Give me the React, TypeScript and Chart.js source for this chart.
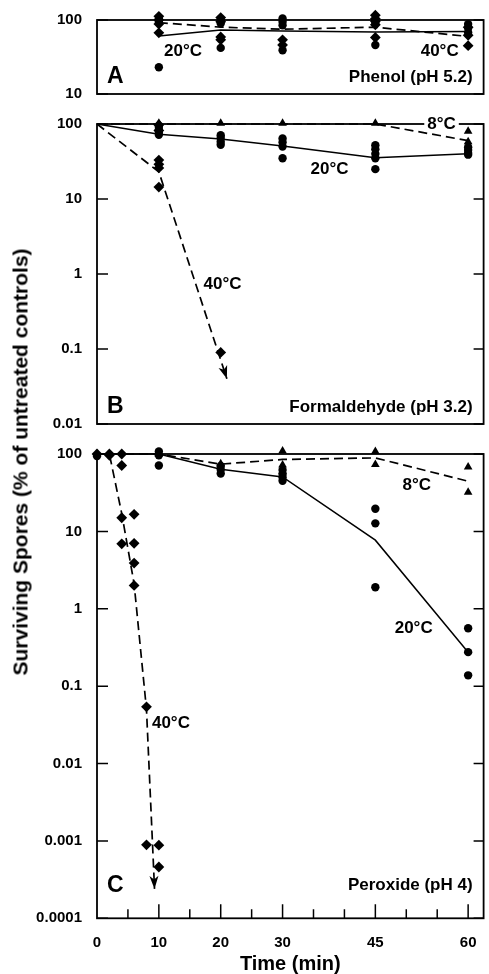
import React, { useEffect, useRef } from 'react';
import { Chart, registerables } from 'chart.js';

Chart.register(...registerables);

const FONT = '"Liberation Sans", Arial, Helvetica, sans-serif';

// ---------- shared axis data ----------
const xTickValues = [0, 10, 20, 30, 45, 60];
const xTickLabels = ['0', '10', '20', '30', '45', '60'];
const xMinorTicks = [5, 15, 25, 35, 40, 50, 55];

const yTicksA = [10, 100];
const yLabelsA = ['10', '100'];
const yTicksB = [0.01, 0.1, 1, 10, 100];
const yLabelsB = ['0.01', '0.1', '1', '10', '100'];
const yTicksC = [0.0001, 0.001, 0.01, 0.1, 1, 10, 100];
const yLabelsC = ['0.0001', '0.001', '0.01', '0.1', '1', '10', '100'];

// ---------- Panel A: Phenol (pH 5.2) ----------
const phenol20Points: [number, number][] = [
  [10, 120], [10, 105], [10, 95], [10, 23],
  [20, 115], [20, 100], [20, 90], [20, 42],
  [30, 120], [30, 105], [30, 95], [30, 85], [30, 39],
  [45, 92], [45, 46],
  [60, 88], [60, 78], [60, 68],
];
const phenol40Points: [number, number][] = [
  [10, 112], [10, 100], [10, 88], [10, 67],
  [20, 108], [20, 95], [20, 59], [20, 54],
  [30, 54], [30, 46],
  [45, 116], [45, 104], [45, 96], [45, 86], [45, 58],
  [60, 80], [60, 62], [60, 45],
];
const phenol20Line: [number, number][] = [[10, 61], [20, 73], [30, 71], [45, 69], [60, 70]];
const phenol40Line: [number, number][] = [[10, 92], [20, 80], [30, 75], [45, 80], [60, 60]];

// ---------- Panel B: Formaldehyde (pH 3.2) ----------
const form8Points: [number, number][] = [[10, 102], [20, 102], [30, 102], [45, 102], [60, 80], [60, 58]];
const form20Points: [number, number][] = [
  [10, 92], [10, 84], [10, 78], [10, 72],
  [20, 71], [20, 65], [20, 58], [20, 53],
  [30, 64], [30, 57], [30, 50], [30, 35],
  [45, 52], [45, 46], [45, 40], [45, 35], [45, 25],
  [60, 49], [60, 45], [60, 41], [60, 39],
];
const form40Points: [number, number][] = [
  [10, 97], [10, 82], [10, 33], [10, 29], [10, 26], [10, 14.4], [20, 0.09],
];
const form8Line: [number, number][] = [[0, 100], [10, 100], [20, 100], [30, 100], [45, 100], [60, 60]];
const form20Line: [number, number][] = [[0, 100], [10, 73], [20, 63], [30, 51], [45, 35.5], [60, 40]];
const form40Line: [number, number][] = [[0, 100], [10, 23], [21, 0.04]];

// ---------- Panel C: Peroxide (pH 4) ----------
const perox8Points: [number, number][] = [
  [0, 100], [10, 100], [20, 75], [30, 109], [30, 72], [30, 60], [45, 108], [45, 73], [60, 68], [60, 32],
];
const perox20Points: [number, number][] = [
  [0, 94], [10, 123], [10, 108], [10, 96], [10, 71],
  [20, 70], [20, 63], [20, 56],
  [30, 62], [30, 55], [30, 50], [30, 45],
  [45, 19.6], [45, 12.7], [45, 1.9],
  [60, 0.56], [60, 0.275], [60, 0.138],
];
const perox40Points: [number, number][] = [
  [0, 100], [2, 100], [2, 96], [4, 100], [4, 71], [4, 15], [4, 6.9],
  [6, 16.6], [6, 7], [6, 3.9], [6, 2], [8, 0.054], [8, 0.00089], [10, 0.00088], [10, 0.00046],
];
const perox8Line: [number, number][] = [[0, 100], [10, 100], [20, 74], [30, 85], [45, 89], [60, 44.5]];
const perox20Line: [number, number][] = [[0, 100], [10, 100], [20, 63.5], [30, 50.6], [45, 7.7], [60, 0.275]];
const perox40Line: [number, number][] = [[0, 100], [2, 100], [4, 17], [6, 2.1], [8, 0.05], [9.3, 0.00024]];

type Pt = [number, number];
interface LineSpec { data: Pt[]; dashed: boolean; arrow?: boolean }
interface MarkSpec { data: Pt[]; style: string; radius: number }
interface LabelSpec { text: string; x: number; y: number; bg?: boolean }
interface PanelSpec {
  top: number; height: number; padTop: number; padBottom: number;
  yMin: number; yMax: number; yTicks: number[]; yLabels: string[];
  lines: LineSpec[]; marks: MarkSpec[]; labels: LabelSpec[];
  letter: string; name: string; textOffset: number; showX: boolean;
}

const CIRCLE_R = 4.2;
const DIAMOND_R = 5.4;
const TRIANGLE_R = 5;

const panels: PanelSpec[] = [
  {
    top: 0, height: 110, padTop: 20, padBottom: 12.3,
    yMin: 10, yMax: 100, yTicks: yTicksA, yLabels: yLabelsA,
    lines: [{ data: phenol20Line, dashed: false }, { data: phenol40Line, dashed: true }],
    marks: [
      { data: phenol20Points, style: 'circle', radius: CIRCLE_R },
      { data: phenol40Points, style: 'rectRot', radius: DIAMOND_R },
    ],
    labels: [{ text: '20°C', x: 13.9, y: 38 }, { text: '40°C', x: 55.4, y: 38 }],
    letter: 'A', name: 'Phenol (pH 5.2)', textOffset: 17, showX: false,
  },
  {
    top: 108, height: 332, padTop: 9.7, padBottom: 11,
    yMin: 0.01, yMax: 100, yTicks: yTicksB, yLabels: yLabelsB,
    lines: [
      { data: form8Line, dashed: true },
      { data: form20Line, dashed: false },
      { data: form40Line, dashed: true, arrow: true },
    ],
    marks: [
      { data: form8Points, style: 'triangle', radius: TRIANGLE_R },
      { data: form20Points, style: 'circle', radius: CIRCLE_R },
      { data: form40Points, style: 'rectRot', radius: DIAMOND_R },
    ],
    labels: [
      { text: '20°C', x: 37.6, y: 25.2 },
      { text: '8°C', x: 55.7, y: 100, bg: true },
      { text: '40°C', x: 20.3, y: 0.73 },
    ],
    letter: 'B', name: 'Formaldehyde (pH 3.2)', textOffset: 17, showX: false,
  },
  {
    top: 438, height: 536, padTop: 14, padBottom: 0,
    yMin: 0.0001, yMax: 100, yTicks: yTicksC, yLabels: yLabelsC,
    lines: [
      { data: perox8Line, dashed: true },
      { data: perox20Line, dashed: false },
      { data: perox40Line, dashed: true, arrow: true },
    ],
    marks: [
      { data: perox8Points, style: 'triangle', radius: TRIANGLE_R },
      { data: perox20Points, style: 'circle', radius: CIRCLE_R },
      { data: perox40Points, style: 'rectRot', radius: DIAMOND_R },
    ],
    labels: [
      { text: '8°C', x: 51.7, y: 39.5 },
      { text: '20°C', x: 51.2, y: 0.56 },
      { text: '40°C', x: 11.95, y: 0.033 },
    ],
    letter: 'C', name: 'Peroxide (pH 4)', textOffset: 32.5, showX: true,
  },
];

function makeDecor(spec: PanelSpec) {
  return {
    id: 'panelDecor' + spec.letter,
    beforeDatasetsDraw(chart: any) {
      const { ctx, chartArea: a } = chart;
      const ys = chart.scales.y;
      ctx.save();
      ctx.strokeStyle = '#000';
      ctx.lineWidth = 1.8;
      ctx.strokeRect(a.left, a.top, a.right - a.left, a.bottom - a.top);
      ctx.lineWidth = 1.5;
      ctx.beginPath();
      for (const t of ys.ticks) {
        const py = ys.getPixelForValue(t.value);
        ctx.moveTo(a.left, py); ctx.lineTo(a.left + 11, py);
        ctx.moveTo(a.right, py); ctx.lineTo(a.right - 10, py);
      }
      if (spec.showX) {
        const xs = chart.scales.x;
        for (const v of xTickValues) {
          if (v === 0) continue;
          const px = xs.getPixelForValue(v);
          ctx.moveTo(px, a.bottom); ctx.lineTo(px, a.bottom - 14);
        }
        for (const v of xMinorTicks) {
          const px = xs.getPixelForValue(v);
          ctx.moveTo(px, a.bottom); ctx.lineTo(px, a.bottom - 9);
        }
      }
      ctx.stroke();
      ctx.restore();
    },
    afterDatasetsDraw(chart: any) {
      const { ctx, chartArea: a } = chart;
      const xs = chart.scales.x;
      const ys = chart.scales.y;
      ctx.save();
      // arrowheads
      chart.data.datasets.forEach((ds: any, i: number) => {
        if (!ds.arrow) return;
        const pts = chart.getDatasetMeta(i).data;
        const p1 = pts[pts.length - 1];
        const p0 = pts[pts.length - 2];
        const ang = Math.atan2(p1.y - p0.y, p1.x - p0.x);
        const L = 13, W = 4.5;
        ctx.save();
        ctx.translate(p1.x, p1.y);
        ctx.rotate(ang);
        ctx.fillStyle = '#000';
        ctx.beginPath();
        ctx.moveTo(0, 0);
        ctx.lineTo(-L, -W);
        ctx.lineTo(-L + 3.5, 0);
        ctx.lineTo(-L, W);
        ctx.closePath();
        ctx.fill();
        ctx.restore();
      });
      // temperature labels
      ctx.fillStyle = '#000';
      ctx.textBaseline = 'middle';
      ctx.textAlign = 'center';
      ctx.font = `bold 17px ${FONT}`;
      for (const l of spec.labels) {
        const px = xs.getPixelForValue(l.x);
        const py = ys.getPixelForValue(l.y);
        if (l.bg) {
          const w = ctx.measureText(l.text).width;
          ctx.fillStyle = '#fff';
          ctx.fillRect(px - w / 2 - 3, py - 8, w + 6, 16);
          ctx.fillStyle = '#000';
        }
        ctx.fillText(l.text, px, py);
      }
      const ty = a.bottom - spec.textOffset;
      ctx.textAlign = 'left';
      ctx.font = `bold 23px ${FONT}`;
      ctx.fillText(spec.letter, a.left + 10, ty);
      ctx.textAlign = 'right';
      ctx.font = `bold 17px ${FONT}`;
      ctx.fillText(spec.name, a.right - 11, ty);
      ctx.restore();
    },
  };
}

function buildConfig(spec: PanelSpec): any {
  const toXY = (d: Pt[]) => d.map(([x, y]) => ({ x, y }));
  const datasets: any[] = [
    ...spec.lines.map((l) => ({
      data: toXY(l.data),
      showLine: true,
      borderColor: '#000',
      borderWidth: l.dashed ? 1.7 : 1.5,
      borderDash: l.dashed ? [9, 5] : [],
      pointRadius: 0,
      pointHoverRadius: 0,
      tension: 0,
      fill: false,
      clip: false,
      arrow: !!l.arrow,
    })),
    ...spec.marks.map((m) => ({
      data: toXY(m.data),
      showLine: false,
      pointStyle: m.style,
      pointRadius: m.radius,
      pointBackgroundColor: '#000',
      pointBorderColor: '#000',
      pointBorderWidth: 0,
      clip: false,
    })),
  ];
  const tickFont = { family: FONT, size: 15, weight: 'bold' as const };
  const xScale: any = {
    type: 'linear',
    min: 0,
    max: 62.5,
    bounds: 'data',
    display: spec.showX,
    grid: { display: false },
    border: { display: false },
  };
  if (spec.showX) {
    Object.assign(xScale, {
      afterBuildTicks: (s: any) => { s.ticks = xTickValues.map((v) => ({ value: v })); },
      afterFit: (s: any) => { s.height = 55.7; },
      ticks: {
        color: '#000', font: tickFont, padding: 8, autoSkip: false, maxRotation: 0,
        callback: (_v: any, i: number) => xTickLabels[i],
      },
      title: {
        display: true, text: 'Time (min)', color: '#000',
        font: { family: FONT, size: 20, weight: 'bold', lineHeight: 1 },
        padding: { top: 0, bottom: 0 },
      },
    });
  }
  return {
    type: 'scatter',
    data: { datasets },
    options: {
      responsive: false,
      animation: false,
      events: [],
      layout: { padding: { top: spec.padTop, bottom: spec.padBottom, left: 0, right: 2 } },
      plugins: { legend: { display: false }, tooltip: { enabled: false } },
      scales: {
        x: xScale,
        y: {
          type: 'logarithmic',
          min: spec.yMin,
          max: spec.yMax,
          bounds: 'data',
          afterBuildTicks: (s: any) => { s.ticks = spec.yTicks.map((v) => ({ value: v })); },
          afterFit: (s: any) => { s.width = 97; },
          grid: { display: false },
          border: { display: false },
          ticks: {
            color: '#000', font: tickFont, padding: 7, autoSkip: false,
            callback: (_v: any, i: number) => spec.yLabels[i],
          },
        },
      },
    },
    plugins: [makeDecor(spec)],
  };
}

function Panel({ spec }: { spec: PanelSpec }) {
  const ref = useRef<HTMLCanvasElement>(null);
  useEffect(() => {
    const chart = new Chart(ref.current as HTMLCanvasElement, buildConfig(spec));
    return () => chart.destroy();
  }, [spec]);
  return (
    <canvas
      ref={ref}
      width={489}
      height={spec.height}
      style={{ position: 'absolute', left: 0, top: spec.top, width: 489, height: spec.height }}
    />
  );
}

export default function App() {
  return (
    <div style={{ position: 'absolute', left: 0, top: 0, width: 489, height: 974, background: '#fff', overflow: 'hidden' }}>
      {panels.map((p) => (
        <Panel key={p.letter} spec={p} />
      ))}
      <div
        style={{
          position: 'absolute', left: 20, top: 461.5,
          transform: 'translate(-50%, -50%) rotate(-90deg)',
          whiteSpace: 'nowrap', fontFamily: FONT, fontWeight: 'bold', fontSize: 21, lineHeight: 1, color: '#000',
        }}
      >
        Surviving Spores (% of untreated controls)
      </div>
    </div>
  );
}
